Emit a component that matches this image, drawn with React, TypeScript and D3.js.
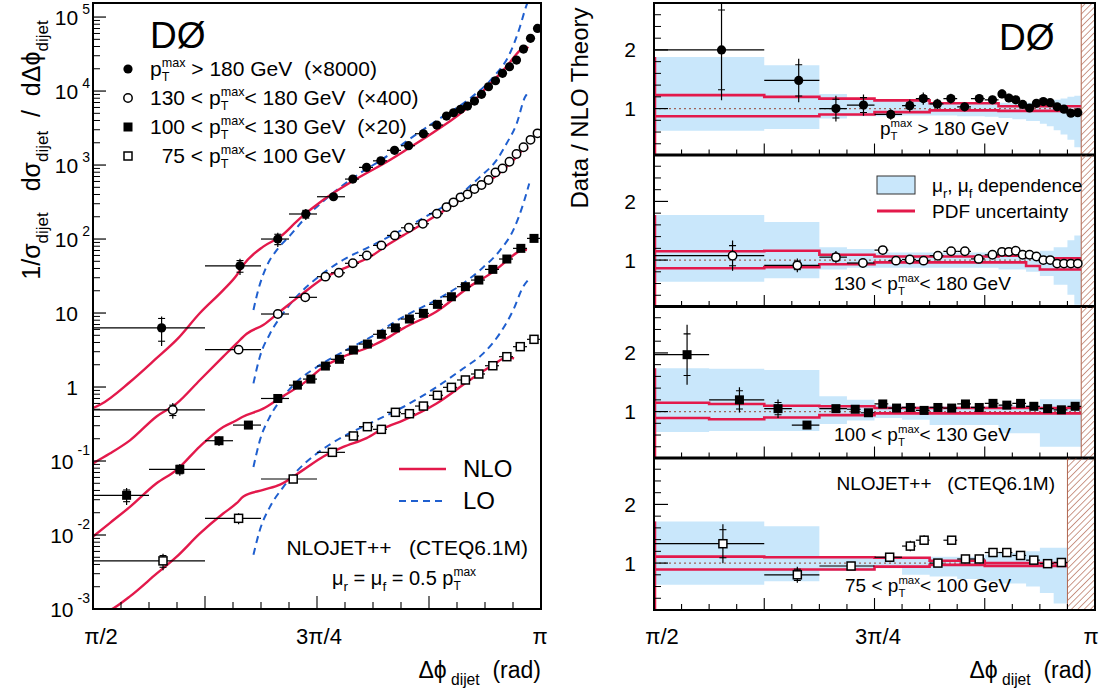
import React from "react";
import * as d3 from "d3";

const FONT = "'Liberation Sans', Arial, Helvetica, sans-serif";
const RED = "#e3194b";
const BLUE = "#1f5fcf";
const BAND = "#c9e7fb";
const HATCH = "#b0644e";
const PHI = "\u03D5";

// bin unit: x values below are offsets above π/2 in units of π/32
const BIN = Math.PI / 32;
const uToPhi = (u: number) => Math.PI / 2 + u * BIN;

// ---------------- pT > 180 GeV (x8000) ----------------
const s1Edges = [0, 4, 6, 7, 8, 9, 9.5, 10, 10.5, 11, 11.5, 12, 12.5, 12.75, 13, 13.25, 13.5, 13.75, 14, 14.25, 14.5, 14.75, 15, 15.25, 15.5, 15.75, 16];
const s1X = [2.45, 5.25, 6.6, 7.6, 8.59, 9.28, 9.77, 10.28, 10.77, 11.27, 11.8, 12.28, 12.625, 12.875, 13.125, 13.375, 13.625, 13.875, 14.125, 14.375, 14.625, 14.875, 15.125, 15.375, 15.625, 15.875];
const s1Val = [6.3, 43.4, 100, 218, 373, 646, 930, 1140, 1580, 1825, 2650, 3470, 4590, 5090, 5660, 6270, 7330, 9020, 11430, 13770, 17340, 21290, 26240, 36970, 51560, 70300];
const s1Ratio = [2.0, 1.48, 1.0, 1.06, 0.9, 1.05, 1.17, 1.08, 1.17, 1.03, 1.17, 1.15, 1.25, 1.18, 1.15, 1.07, 1.01, 1.09, 1.12, 1.1, 1.03, 0.99, 0.92, 0.93];
const s1Tot = [0.43, 0.25, 0.22, 0.17, 0.1, 0.1, 0.09, 0.08, 0.07, 0.07, 0.06, 0.06, 0.06, 0.06, 0.06, 0.06, 0.05, 0.05, 0.05, 0.05, 0.05, 0.05, 0.05, 0.05, 0.05, 0.05];
const s1Stat = [0.34, 0.18, 0.16, 0.12, 0.05, 0.05, 0.04, 0.04, 0.03, 0.03, 0.03, 0.03, 0.03, 0.03, 0.03, 0.03, 0.02, 0.02, 0.02, 0.02, 0.02, 0.02, 0.02, 0.02, 0.02, 0.02];

// ---------------- 130 < pT < 180 GeV (x400) ----------------
const s2Edges = [0, 4, 6, 7, 8, 8.5, 9, 9.5, 10, 10.5, 11, 11.5, 12, 12.5, 12.75, 13, 13.25, 13.5, 13.75, 14, 14.25, 14.5, 14.75, 15, 15.25, 15.5, 15.75, 16];
const s2X = [2.85, 5.2, 6.6, 7.58, 8.3, 8.78, 9.28, 9.78, 10.3, 10.78, 11.28, 11.78, 12.28, 12.625, 12.875, 13.125, 13.375, 13.625, 13.875, 14.125, 14.375, 14.625, 14.875, 15.125, 15.375, 15.625, 15.875];
const s2Val = [0.49, 3.2, 9.7, 16.3, 31, 35, 47, 60, 82, 112, 142, 161, 220, 270, 313, 366, 402, 474, 537, 627, 795, 901, 1109, 1409, 1740, 2190, 2680];
const s2Ratio = [1.075, 0.91, 1.05, 0.95, 1.17, 0.99, 1.01, 0.99, 1.075, 1.15, 1.15, 1.02, 1.09, 1.14, 1.14, 1.16, 1.09, 1.09, 1.06, 1.0, 1.0, 0.94, 0.94, 0.94, 0.94];
const s2Tot = [0.24, 0.13, 0.1, 0.06, 0.06, 0.05, 0.05, 0.05, 0.05, 0.05, 0.05, 0.05, 0.05, 0.05, 0.05, 0.05, 0.05, 0.05, 0.05, 0.05, 0.05, 0.05, 0.05, 0.05, 0.05, 0.05, 0.05];
const s2Stat = [0.16, 0.08, 0.06, 0.03, 0.03, 0.02, 0.02, 0.02, 0.02, 0.02, 0.02, 0.02, 0.02, 0.02, 0.02, 0.02, 0.02, 0.02, 0.02, 0.02, 0.02, 0.02, 0.02, 0.02, 0.02, 0.02, 0.02];

// ---------------- 100 < pT < 130 GeV (x20) ----------------
const s3Edges = [0, 2, 4, 5, 6, 7, 7.5, 8, 8.5, 9, 9.5, 10, 10.5, 11, 11.5, 12, 12.5, 13, 13.5, 14, 14.5, 15, 15.5, 16];
const s3X = [1.2, 3.1, 4.5, 5.55, 6.6, 7.3, 7.78, 8.3, 8.8, 9.3, 9.8, 10.3, 10.8, 11.3, 11.8, 12.3, 12.8, 13.3, 13.78, 14.28, 14.78, 15.28, 15.75];
const s3Val = [0.0344, 0.0773, 0.188, 0.306, 0.7, 1.06, 1.28, 1.92, 2.37, 3.16, 3.81, 5.16, 6.3, 8.3, 9.9, 13.1, 16.6, 22.7, 27.9, 38.9, 53.7, 74.8, 102];
const s3Ratio = [1.97, 1.2, 1.05, 0.77, 1.05, 1.04, 0.98, 1.13, 1.06, 1.07, 1.02, 1.07, 1.06, 1.13, 1.07, 1.14, 1.11, 1.14, 1.09, 1.05, 1.03, 1.09];
const s3Tot = [0.26, 0.18, 0.15, 0.08, 0.06, 0.06, 0.05, 0.05, 0.05, 0.05, 0.04, 0.04, 0.04, 0.04, 0.04, 0.04, 0.04, 0.04, 0.04, 0.04, 0.04, 0.04, 0.04];
const s3Stat = [0.18, 0.13, 0.1, 0.05, 0.04, 0.04, 0.03, 0.02, 0.02, 0.02, 0.02, 0.02, 0.02, 0.02, 0.02, 0.02, 0.02, 0.02, 0.02, 0.02, 0.02, 0.02, 0.02];

// ---------------- 75 < pT < 100 GeV ----------------
const s4Edges = [0, 4, 6, 8, 9, 9.5, 10, 10.5, 11, 11.5, 12, 12.5, 13, 13.5, 14, 14.5, 15, 15.5, 16];
const s4X = [2.5, 5.2, 7.15, 8.55, 9.3, 9.8, 10.3, 10.8, 11.3, 11.8, 12.3, 12.8, 13.3, 13.78, 14.28, 14.78, 15.26, 15.75];
const s4Val = [0.00447, 0.0168, 0.0571, 0.131, 0.218, 0.291, 0.268, 0.455, 0.436, 0.553, 0.773, 0.99, 1.245, 1.5, 1.94, 2.57, 3.51, 4.41];
const s4Ratio = [1.33, 0.8, 0.95, 1.1, 1.29, 1.39, 1.0, 1.39, 1.07, 1.07, 1.18, 1.18, 1.13, 1.05, 0.99, 1.01];
const s4Tot = [0.25, 0.17, 0.05, 0.05, 0.07, 0.06, 0.06, 0.05, 0.05, 0.05, 0.05, 0.05, 0.05, 0.05, 0.05, 0.05, 0.05, 0.05];
const s4Stat = [0.18, 0.12, 0.03, 0.03, 0.04, 0.03, 0.03, 0.03, 0.03, 0.02, 0.02, 0.02, 0.02, 0.02, 0.02, 0.02, 0.02, 0.02];

// ---------------- NLO / LO theory curves [u, value] ----------------
const nlo1 = [[0, 0.52], [0.25, 0.575], [1.32, 1.17], [2.27, 2.45], [3.0, 4.4], [3.82, 10], [4.65, 20.4], [5.13, 32.4], [5.37, 44.7], [6.08, 79], [6.68, 107], [7.39, 190], [8.23, 339], [9.35, 631], [10.65, 1200], [11.2, 1620], [12.27, 2950], [13.35, 5890], [14.06, 11200], [14.77, 21400], [15.25, 35500], [15.43, 39800], [15.55, 38000]];
const nlo2 = [[0, 0.093], [0.6, 0.126], [1.32, 0.19], [2.27, 0.4], [2.99, 0.6], [3.82, 1.245], [4.65, 2.57], [5.13, 3.9], [5.49, 5.25], [6.08, 6.9], [6.68, 10.5], [7.51, 18.6], [8.23, 29.5], [8.94, 39.8], [9.9, 57.5], [10.6, 87], [11.08, 112], [12.27, 209], [13.46, 417], [14.42, 724], [15.13, 1290], [15.4, 1660], [15.55, 1700]];
const nlo3 = [[0, 0.0095], [0.6, 0.0145], [1.32, 0.024], [2.27, 0.05], [2.99, 0.076], [3.82, 0.158], [4.65, 0.288], [5.13, 0.355], [5.37, 0.4], [6.08, 0.51], [6.68, 0.71], [7.51, 1.12], [8.23, 1.86], [8.94, 2.57], [9.9, 3.5], [10.6, 4.8], [11.08, 6.2], [12.27, 10.5], [13.46, 22.9], [14.3, 36.3], [14.78, 51], [15.1, 64], [15.4, 72], [15.5, 71]];
const nlo4 = [[0, 0.00076], [0.73, 0.00102], [1.32, 0.00148], [2.27, 0.003], [2.99, 0.0051], [3.82, 0.0105], [4.65, 0.0195], [5.13, 0.0269], [5.37, 0.0331], [6.08, 0.0407], [6.68, 0.0479], [7.51, 0.0759], [8.23, 0.115], [8.94, 0.155], [9.77, 0.204], [10.4, 0.28], [11.08, 0.355], [12.27, 0.6], [13.46, 1.245], [14.3, 2.0], [14.77, 2.5], [15.04, 2.45]];
const lo1 = [[5.73, 11], [5.9, 20.4], [6.2, 42.7], [6.56, 70.8], [7.04, 112], [7.5, 178], [8.5, 398], [9.5, 760], [10.5, 1320], [11.08, 1950], [12.27, 3980], [13.46, 7940], [14.3, 15500], [14.89, 32400], [15.25, 74100], [15.43, 126000], [15.55, 170000]];
const lo2 = [[5.73, 1.12], [5.96, 2.57], [6.32, 5.25], [6.8, 10], [7.27, 16.6], [7.99, 29.5], [8.94, 52.5], [9.9, 79.4], [11.68, 182], [12.87, 339], [13.82, 692], [14.42, 1175], [14.77, 1950], [15.13, 3630], [15.43, 8300], [15.58, 9800]];
const lo3 = [[5.73, 0.083], [5.96, 0.19], [6.32, 0.4], [6.8, 0.74], [7.27, 1.17], [7.99, 1.86], [8.94, 3.0], [9.9, 4.7], [11.08, 8.9], [12.27, 15.1], [13.22, 25.1], [13.82, 38], [14.54, 70.8], [15.01, 132], [15.37, 302], [15.58, 562]];
const lo4 = [[5.73, 0.0054], [5.96, 0.0117], [6.32, 0.024], [6.8, 0.0447], [7.27, 0.0724], [7.99, 0.126], [8.94, 0.214], [9.9, 0.324], [11.08, 0.537], [12.27, 1.0], [13.22, 1.78], [13.94, 2.85], [14.54, 5.37], [15.01, 11], [15.37, 22.9], [15.55, 28.2]];

// ---------------- ratio panels: scale band and PDF band ----------------
const band1Edges = [0, 4, 6, 7, 8, 9, 10, 11, 12, 12.5, 13, 13.5, 14, 14.25, 14.5, 14.75, 15, 15.25, 15.5];
const band1Lo = [0.62, 0.65, 0.83, 0.87, 0.87, 0.88, 0.88, 0.87, 0.86, 0.84, 0.82, 0.79, 0.74, 0.7, 0.63, 0.56, 0.47, 0.34];
const band1Hi = [1.88, 1.74, 1.25, 1.18, 1.14, 1.12, 1.11, 1.1, 1.1, 1.1, 1.1, 1.1, 1.12, 1.13, 1.15, 1.17, 1.2, 1.22];
const pdf1Edges = [0, 4, 6, 8, 10, 12.5, 15.5];
const pdf1Hi = [1.23, 1.2, 1.17, 1.14, 1.09, 1.04];
const pdf1Lo = [0.87, 0.87, 0.9, 0.94, 0.97, 0.96];

const band2Edges = [0, 4, 6, 7, 8, 12.5, 13.5, 14, 14.5, 15, 15.25, 15.5];
const band2Lo = [0.63, 0.69, 0.84, 0.87, 0.87, 0.84, 0.8, 0.73, 0.58, 0.41, 0.24];
const band2Hi = [1.77, 1.65, 1.22, 1.19, 1.13, 1.1, 1.1, 1.16, 1.22, 1.34, 1.42];
const pdf2Edges = [0, 4, 6, 8, 12.5, 13.5, 14, 15.5];
const pdf2Hi = [1.15, 1.16, 1.09, 1.06, 1.075, 1.05, 1.03];
const pdf2Lo = [0.86, 0.88, 0.93, 0.96, 0.96, 0.9, 0.84];

const band3Edges = [0, 2, 4, 6, 7, 8, 9, 10, 12.5, 14, 15.5];
const band3Lo = [0.65, 0.67, 0.67, 0.79, 0.85, 0.89, 0.86, 0.77, 0.63, 0.4];
const band3Hi = [1.74, 1.73, 1.71, 1.26, 1.2, 1.11, 1.09, 1.09, 1.11, 1.21];
const pdf3Edges = [0, 2, 4, 6, 8, 15.5];
const pdf3Hi = [1.15, 1.13, 1.1, 1.09, 1.06];
const pdf3Lo = [0.89, 0.87, 0.9, 0.94, 0.97];

const band4Edges = [0, 4, 6, 8, 9, 10, 11, 12, 12.5, 13.5, 14, 14.5, 15];
const band4Lo = [0.63, 0.69, 0.87, 0.91, 0.8, 0.77, 0.73, 0.69, 0.65, 0.6, 0.49, 0.31];
const band4Hi = [1.71, 1.63, 1.11, 1.11, 1.11, 1.11, 1.11, 1.14, 1.17, 1.2, 1.26, 1.26];
const pdf4Edges = [0, 4, 8, 10, 12, 15];
const pdf4Hi = [1.11, 1.1, 1.09, 1.04, 1.0];
const pdf4Lo = [0.89, 0.89, 0.94, 0.97, 0.95];

const hatchStart = [15.5, 15.5, 15.5, 15];
const ratioTicksMinor = [0.4, 0.6, 0.8, 1.2, 1.4, 1.6, 1.8, 2.2, 2.4, 2.6];
const ratioTicksMajor = [1, 2];
const decadeExp = [-3, -2, -1, 0, 1, 2, 3, 4, 5];

const series = [
  { edges: s1Edges, x: s1X, val: s1Val, ratio: s1Ratio, tot: s1Tot, stat: s1Stat, marker: "fc", nlo: nlo1, lo: lo1,
    band: [band1Edges, band1Lo, band1Hi], pdf: [pdf1Edges, pdf1Lo, pdf1Hi] },
  { edges: s2Edges, x: s2X, val: s2Val, ratio: s2Ratio, tot: s2Tot, stat: s2Stat, marker: "oc", nlo: nlo2, lo: lo2,
    band: [band2Edges, band2Lo, band2Hi], pdf: [pdf2Edges, pdf2Lo, pdf2Hi] },
  { edges: s3Edges, x: s3X, val: s3Val, ratio: s3Ratio, tot: s3Tot, stat: s3Stat, marker: "fs", nlo: nlo3, lo: lo3,
    band: [band3Edges, band3Lo, band3Hi], pdf: [pdf3Edges, pdf3Lo, pdf3Hi] },
  { edges: s4Edges, x: s4X, val: s4Val, ratio: s4Ratio, tot: s4Tot, stat: s4Stat, marker: "os", nlo: nlo4, lo: lo4,
    band: [band4Edges, band4Lo, band4Hi], pdf: [pdf4Edges, pdf4Lo, pdf4Hi] },
];

function Marker({ type, cx, cy }: { type: string; cx: number; cy: number }) {
  if (type === "fc") return <circle cx={cx} cy={cy} r={4.6} fill="#000" />;
  if (type === "oc") return <circle cx={cx} cy={cy} r={4.2} fill="#fff" stroke="#000" strokeWidth={1.5} />;
  if (type === "fs") return <rect x={cx - 4.5} y={cy - 4.5} width={9} height={9} fill="#000" />;
  return <rect x={cx - 4} y={cy - 4} width={8} height={8} fill="#fff" stroke="#000" strokeWidth={1.5} />;
}

function pt(fs: number, k: string, rest: string) {
  const s = fs * 0.6;
  return [
    <tspan key={k + "p"}>p</tspan>,
    <tspan key={k + "T"} fontSize={s} dy={fs * 0.26}>T</tspan>,
    <tspan key={k + "m"} fontSize={s} dx={-s * 0.611} dy={-fs * 0.7}>max</tspan>,
    <tspan key={k + "r"} dy={fs * 0.44}>{rest}</tspan>,
  ];
}

function sub(fs: number, k: string, main: string, s: string, after: string) {
  const f = fs * 0.68;
  return [
    <tspan key={k + "a"}>{main}</tspan>,
    <tspan key={k + "b"} fontSize={f} dy={fs * 0.3}>{s}</tspan>,
    <tspan key={k + "c"} dy={-fs * 0.3}>{after}</tspan>,
  ];
}

export default function App() {
  const xL = d3.scaleLinear().domain([Math.PI / 2, Math.PI]).range([93, 541]);
  const yL = d3.scaleLog().domain([1e-3, Math.pow(10, 5.19)]).range([609, 3]);
  const xR = d3.scaleLinear().domain([Math.PI / 2, Math.PI]).range([654, 1095]);
  const PTOP = [3, 154.5, 306, 457.5];
  const PH = 152.5;
  const yRs = PTOP.map((t) => d3.scaleLinear().domain([0.2, 2.8]).range([t + PH, t]));

  const lineL = d3
    .line<number[]>()
    .x((d) => xL(uToPhi(d[0])))
    .y((d) => yL(d[1]))
    .curve(d3.curveMonotoneX);

  const stepPts = (edges: number[], vals: number[]) => {
    const pts: number[][] = [];
    vals.forEach((v, i) => {
      pts.push([edges[i], v]);
      pts.push([edges[i + 1], v]);
    });
    return pts;
  };

  const xTicks = d3.range(1, 16);
  const lfs = 21;

  return (
    <svg width={1102} height={696} style={{ position: "absolute", left: 0, top: 0, background: "#fff" }} fontFamily={FONT}>
      <defs>
        <clipPath id="clipL">
          <rect x={93} y={3} width={448} height={606} />
        </clipPath>
        {PTOP.map((t, i) => (
          <clipPath id={"clipR" + i} key={i}>
            <rect x={654} y={t} width={441} height={PH} />
          </clipPath>
        ))}
        <pattern id="hatch" width={4.5} height={4.5} patternUnits="userSpaceOnUse" patternTransform="rotate(45)">
          <line x1={0} y1={0} x2={0} y2={4.5} stroke={HATCH} strokeWidth={1.3} />
        </pattern>
      </defs>

      {/* ================= LEFT PANEL ================= */}
      <g clipPath="url(#clipL)">
        {series.map((s, si) => (
          <path key={"lo" + si} d={lineL(s.lo) || ""} fill="none" stroke={BLUE} strokeWidth={2} strokeDasharray="7,5" />
        ))}
        {series.map((s, si) => (
          <path key={"nlo" + si} d={lineL(s.nlo) || ""} fill="none" stroke={RED} strokeWidth={2.4} />
        ))}
        {series.map((s, si) =>
          s.val.map((v, i) => {
            const cx = xL(uToPhi(s.x[i]));
            const cy = yL(v);
            const x0 = xL(uToPhi(s.edges[i]));
            const x1 = xL(uToPhi(s.edges[i + 1]));
            const yt = yL(v * (1 + s.tot[i]));
            const yb = yL(v * (1 - s.tot[i]));
            const st = yL(v * (1 + s.stat[i]));
            const sb = yL(v * (1 - s.stat[i]));
            return (
              <g key={"p" + si + "_" + i}>
                <line x1={x0} x2={x1} y1={cy} y2={cy} stroke="#000" strokeWidth={1.2} />
                <line x1={cx} x2={cx} y1={yt} y2={yb} stroke="#000" strokeWidth={1.2} />
                <line x1={cx - 3.5} x2={cx + 3.5} y1={st} y2={st} stroke="#000" strokeWidth={1.1} />
                <line x1={cx - 3.5} x2={cx + 3.5} y1={sb} y2={sb} stroke="#000" strokeWidth={1.1} />
                <Marker type={s.marker} cx={cx} cy={cy} />
              </g>
            );
          })
        )}
      </g>
      <rect x={93} y={3} width={448} height={606} fill="none" stroke="#000" strokeWidth={2} />

      {/* left y ticks */}
      {decadeExp.map((e) => {
        const y = yL(Math.pow(10, e));
        const minors = e < 5 ? d3.range(2, 10).map((m) => m * Math.pow(10, e)) : [];
        return (
          <g key={"yd" + e}>
            <line x1={93} x2={106} y1={y} y2={y} stroke="#000" strokeWidth={1.2} />
            {minors.map((m) => (
              <line key={m} x1={93} x2={100} y1={yL(m)} y2={yL(m)} stroke="#000" strokeWidth={1} />
            ))}
            {e === 0 || e === 1 ? (
              <text x={78} y={y + 7.5} fontSize={21} textAnchor="end">{e === 0 ? "1" : "10"}</text>
            ) : (
              <text x={90} y={y + 7.5} fontSize={21} textAnchor="end">
                <tspan>10</tspan>
                <tspan fontSize={14} dx={4} dy={e < 0 ? -14 : -11}>{String(e)}</tspan>
              </text>
            )}
          </g>
        );
      })}

      {/* left x ticks */}
      {xTicks.map((k) => {
        const x = xL(uToPhi(k));
        const major = k % 4 === 0;
        return <line key={"xl" + k} x1={x} x2={x} y1={609} y2={major ? 596 : 602} stroke="#000" strokeWidth={1.1} />;
      })}
      <text x={101} y={644} fontSize={22} textAnchor="middle">π/2</text>
      <text x={319} y={644} fontSize={22} textAnchor="middle">3π/4</text>
      <text x={540} y={644} fontSize={22} textAnchor="middle">π</text>
      <text x={541} y={678} fontSize={23} textAnchor="end" style={{ whiteSpace: "pre" }}>
        {sub(23, "xl", "Δ" + PHI, " dijet", "  (rad)")}
      </text>

      {/* left y title */}
      <text transform="translate(40,150) rotate(-90)" fontSize={25} textAnchor="middle" style={{ whiteSpace: "pre" }}>
        {sub(25, "ya", "1/σ", "dijet", "   dσ")}
        {sub(25, "yb", "", "dijet", "  /  dΔ" + PHI)}
        <tspan fontSize={17} dy={7.5}>dijet</tspan>
      </text>

      {/* DØ + legend */}
      <text x={150} y={48} fontSize={37}>DØ</text>
      {[
        { m: "fc", pre: "", rest: " > 180 GeV  (×8000)" },
        { m: "oc", pre: "130 < ", rest: "< 180 GeV  (×400)" },
        { m: "fs", pre: "100 < ", rest: "< 130 GeV  (×20)" },
        { m: "os", pre: "  75 < ", rest: "< 100 GeV" },
      ].map((r, i) => {
        const y = 69 + i * 29;
        return (
          <g key={"leg" + i}>
            <Marker type={r.m} cx={128} cy={y} />
            <text x={150} y={y + 7} fontSize={lfs} style={{ whiteSpace: "pre" }}>
              <tspan>{r.pre}</tspan>
              {pt(lfs, "l" + i, r.rest)}
            </text>
          </g>
        );
      })}

      <line x1={399} x2={446} y1={469} y2={469} stroke={RED} strokeWidth={2.6} />
      <text x={463} y={477} fontSize={24}>NLO</text>
      <line x1={399} x2={446} y1={501} y2={501} stroke={BLUE} strokeWidth={2.2} strokeDasharray="7,5" />
      <text x={463} y={509} fontSize={24}>LO</text>
      <text x={528} y={555} fontSize={21} textAnchor="end" style={{ whiteSpace: "pre" }}>NLOJET++   (CTEQ6.1M)</text>
      <text x={332} y={585} fontSize={20} style={{ whiteSpace: "pre" }}>
        {sub(20, "mu1", "μ", "r", " = ")}
        {sub(20, "mu2", "μ", "f", " = 0.5 ")}
        {pt(20, "mupt", "")}
      </text>

      {/* ================= RIGHT PANELS ================= */}
      {series.map((s, pi) => {
        const yR = yRs[pi];
        const top = PTOP[pi];
        const bot = top + PH;
        const [bE, bLo, bHi] = s.band as number[][];
        const [pE, pLo, pHi] = s.pdf as number[][];
        const bandPts: number[][] = [];
        bLo.forEach((lo, i) => {
          bandPts.push([bE[i], lo, bHi[i]]);
          bandPts.push([bE[i + 1], lo, bHi[i]]);
        });
        const area = d3
          .area<number[]>()
          .x((d) => xR(uToPhi(d[0])))
          .y0((d) => yR(d[1]))
          .y1((d) => yR(d[2]));
        const stepLine = d3
          .line<number[]>()
          .x((d) => xR(uToPhi(d[0])))
          .y((d) => yR(d[1]));
        const hx = xR(uToPhi(hatchStart[pi]));
        return (
          <g key={"panel" + pi}>
            <g clipPath={`url(#clipR${pi})`}>
              <path d={area(bandPts) || ""} fill={BAND} stroke="none" />
              <line x1={655.5} x2={655.5} y1={yR(bHi[0])} y2={bot} stroke={RED} strokeWidth={1.5} />
              <line x1={654} x2={hx} y1={yR(1)} y2={yR(1)} stroke="#a0645a" strokeWidth={1.2} strokeDasharray="2,3" />
              <path d={stepLine(stepPts(pE, pHi)) || ""} fill="none" stroke={RED} strokeWidth={2.6} />
              <path d={stepLine(stepPts(pE, pLo)) || ""} fill="none" stroke={RED} strokeWidth={2.6} />
              <rect x={hx} y={top} width={1095 - hx} height={PH} fill="url(#hatch)" />
              <line x1={hx} x2={hx} y1={top} y2={bot} stroke={HATCH} strokeWidth={1} />
              {s.ratio.map((r, i) => {
                const cx = xR(uToPhi(s.x[i]));
                const cy = yR(r);
                const x0 = xR(uToPhi(s.edges[i]));
                const x1 = xR(uToPhi(s.edges[i + 1]));
                const yt = yR(r * (1 + s.tot[i]));
                const yb = yR(r * (1 - s.tot[i]));
                const st = yR(r * (1 + s.stat[i]));
                const sb = yR(r * (1 - s.stat[i]));
                return (
                  <g key={"r" + pi + "_" + i}>
                    <line x1={x0} x2={x1} y1={cy} y2={cy} stroke="#000" strokeWidth={1.2} />
                    <line x1={cx} x2={cx} y1={yt} y2={yb} stroke="#000" strokeWidth={1.2} />
                    <line x1={cx - 3.5} x2={cx + 3.5} y1={st} y2={st} stroke="#000" strokeWidth={1.1} />
                    <line x1={cx - 3.5} x2={cx + 3.5} y1={sb} y2={sb} stroke="#000" strokeWidth={1.1} />
                    <Marker type={s.marker} cx={cx} cy={cy} />
                  </g>
                );
              })}
            </g>
            <rect x={654} y={top} width={441} height={PH} fill="none" stroke="#000" strokeWidth={2} />
            {xTicks.map((k) => {
              const x = xR(uToPhi(k));
              const major = k % 4 === 0;
              return <line key={"xr" + k} x1={x} x2={x} y1={bot} y2={major ? bot - 12 : bot - 6} stroke="#000" strokeWidth={1.1} />;
            })}
            {ratioTicksMinor.map((t) => (
              <line key={"rm" + t} x1={654} x2={661} y1={yR(t)} y2={yR(t)} stroke="#000" strokeWidth={1} />
            ))}
            {ratioTicksMajor.map((t) => (
              <g key={"rM" + t}>
                <line x1={654} x2={668} y1={yR(t)} y2={yR(t)} stroke="#000" strokeWidth={1.2} />
                <text x={636} y={yR(t) + 7.5} fontSize={21} textAnchor="end">{t}</text>
              </g>
            ))}
          </g>
        );
      })}

      {/* right panel texts */}
      <text x={999} y={50} fontSize={37}>DØ</text>
      <text x={880} y={135} fontSize={19} style={{ whiteSpace: "pre" }}>{pt(19, "r1", " > 180 GeV")}</text>
      <text x={834} y={290} fontSize={19} style={{ whiteSpace: "pre" }}>
        <tspan>130 &lt; </tspan>
        {pt(19, "r2", "< 180 GeV")}
      </text>
      <text x={834} y={441} fontSize={19} style={{ whiteSpace: "pre" }}>
        <tspan>100 &lt; </tspan>
        {pt(19, "r3", "< 130 GeV")}
      </text>
      <text x={845} y={592} fontSize={19} style={{ whiteSpace: "pre" }}>
        <tspan>75 &lt; </tspan>
        {pt(19, "r4", "< 100 GeV")}
      </text>
      <text x={1055} y={490} fontSize={19} textAnchor="end" style={{ whiteSpace: "pre" }}>NLOJET++   (CTEQ6.1M)</text>

      <rect x={877} y={176} width={38} height={18} fill={BAND} stroke="#333" strokeWidth={1} />
      <text x={932} y={192} fontSize={19} style={{ whiteSpace: "pre" }}>
        {sub(19, "lg1", "μ", "r", ", ")}
        {sub(19, "lg2", "μ", "f", " dependence")}
      </text>
      <line x1={877} x2={915} y1={211} y2={211} stroke={RED} strokeWidth={3} />
      <text x={932} y={218} fontSize={19}>PDF uncertainty</text>

      <text x={662} y={644} fontSize={22} textAnchor="middle">π/2</text>
      <text x={878} y={644} fontSize={22} textAnchor="middle">3π/4</text>
      <text x={1091} y={644} fontSize={22} textAnchor="middle">π</text>
      <text x={1092} y={678} fontSize={23} textAnchor="end" style={{ whiteSpace: "pre" }}>
        {sub(23, "xr", "Δ" + PHI, " dijet", "  (rad)")}
      </text>
      <text transform="translate(588,108) rotate(-90)" fontSize={24} textAnchor="middle">Data / NLO Theory</text>
    </svg>
  );
}
